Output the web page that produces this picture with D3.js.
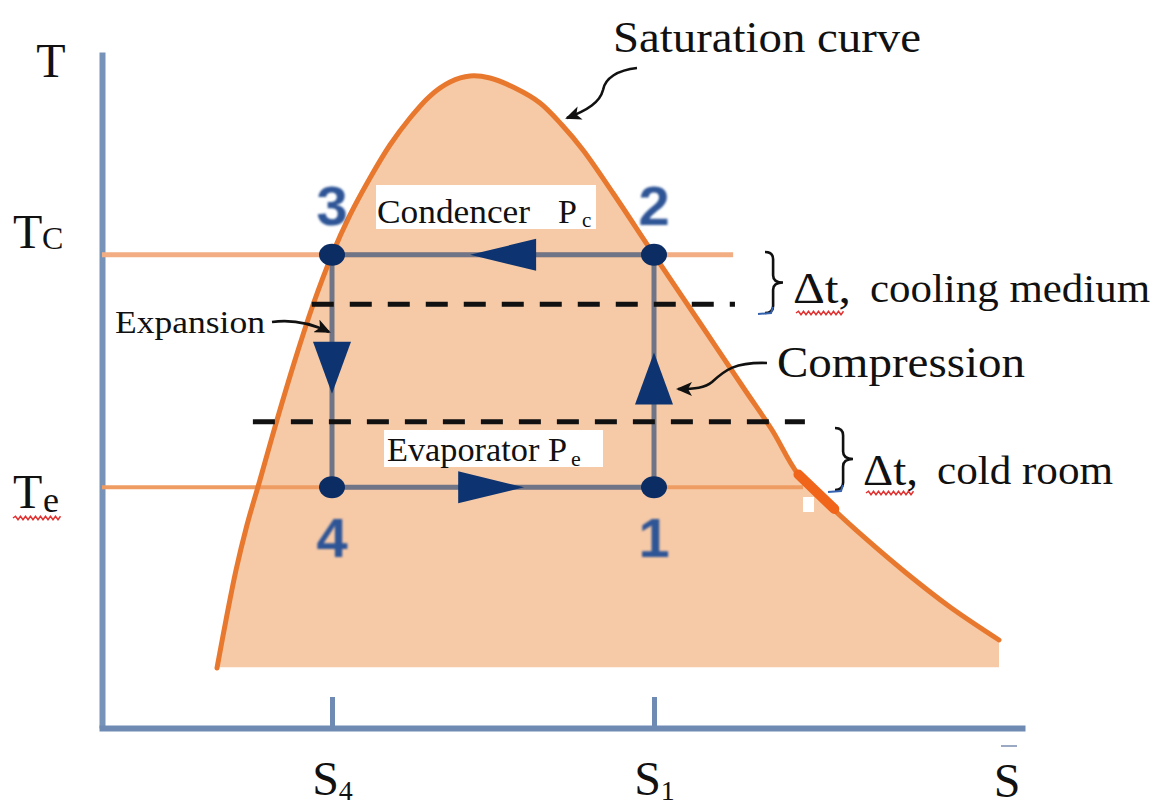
<!DOCTYPE html>
<html><head><meta charset="utf-8">
<script src="https://cdn.jsdelivr.net/npm/d3@7"></script>
<style>body{margin:0;background:#fff} svg{display:block} .serif{font-family:"Liberation Serif","Times New Roman",Tinos,serif}</style>
</head><body>
<svg id="c" width="1157" height="810"></svg>
<script>
// ---------- DATA (entropy S, temperature T, arbitrary units 0..10) ----------
const satS = [1.250,1.348,1.457,1.576,1.717,1.902,2.098,2.293,2.500,2.696,2.913,3.130,3.348,3.565,3.783,4.000,4.217,4.489,4.761,5.000,5.228,5.554,6.000,6.500,6.989,7.283,7.565,7.913,8.293,8.728,9.217,9.750];
const satT = [0.888,1.598,2.337,3.003,3.669,4.556,5.444,6.257,7.000,7.589,8.136,8.624,9.024,9.349,9.556,9.645,9.615,9.467,9.246,8.920,8.550,7.914,7.000,5.991,5.000,4.408,3.757,3.284,2.811,2.308,1.790,1.302];
const fillBaseT = 0.9;
const Tc = 7.0, Te = 3.56;
const TcLineEndS = 6.86, TeLineEndS = 7.62;
const cycleLabels = ["3","2","1","4"];
const cycleS = [2.5, 6.0, 6.0, 2.5];
const cycleT = [7.0, 7.0, 3.56, 3.56];
const arrowS = [4.36, 4.23, 2.5, 6.0];
const arrowT = [7.0, 3.56, 5.33, 5.17];
const arrowDir = ["left","right","down","up"];
const dashT = [6.27, 4.53];
const dashS0 = [2.28, 1.64];
const dashS1 = [6.88, 7.64];
const hiliteS = [7.57, 7.96];
const hiliteT = [3.75, 3.24];
const xTicks = [2.5, 6.0];
const xTickLabels = [["S","4"],["S","1"]];

// ---------- SETUP ----------
const svg = d3.select("#c");
const x = d3.scaleLinear().domain([0,10]).range([102,1022]);
const y = d3.scaleLinear().domain([0,10]).range([728,52]);

const defs = svg.append("defs");
defs.append("filter").attr("id","blur").append("feGaussianBlur").attr("stdDeviation",1.0);
defs.append("filter").attr("id","soft").append("feGaussianBlur").attr("stdDeviation",0.45);
defs.append("marker").attr("id","ah").attr("markerUnits","userSpaceOnUse")
  .attr("markerWidth",16).attr("markerHeight",14).attr("refX",14).attr("refY",7)
  .attr("orient","auto").attr("viewBox","0 0 16 14")
  .append("path").attr("d","M0,0 L16,7 L0,14 L4,7 Z").attr("fill","#111");

const sat = satS.map((s,i)=>[s,satT[i]]);
const curve = d3.curveCatmullRom.alpha(0.5);

// fill under saturation curve
svg.append("path").datum(sat)
  .attr("d", d3.area().x(d=>x(d[0])).y0(y(fillBaseT)).y1(d=>y(d[1])).curve(curve))
  .attr("fill","#F7CAA7").attr("filter","url(#soft)");

// axes
const yAxis = svg.append("g").attr("transform",`translate(${x(0)},0)`)
  .call(d3.axisLeft(y).tickValues([]).tickSizeOuter(0));
yAxis.select(".domain").attr("stroke","#7893B8").attr("stroke-width",6);
const xAxis = svg.append("g").attr("transform",`translate(0,${y(0)})`)
  .call(d3.axisBottom(x).tickValues(xTicks).tickSizeInner(-31).tickSizeOuter(0).tickFormat(""));
xAxis.select(".domain").attr("stroke","#6F8BB3").attr("stroke-width",6).attr("stroke-linecap","square");
xAxis.selectAll(".tick line").attr("stroke","#6F8BB3").attr("stroke-width",5);
xAxis.selectAll(".tick text").each(function(d,i){
  const t = d3.select(this).text(null).attr("y",67).attr("dy",0).attr("class","serif")
    .attr("font-size",48).attr("fill","#111").attr("text-anchor","middle");
  t.append("tspan").text(xTickLabels[i][0]);
  t.append("tspan").text(xTickLabels[i][1]).attr("font-size",28).attr("dy",5);
});
svg.append("line").attr("x1",1001).attr("x2",1017).attr("y1",746).attr("y2",746)
  .attr("stroke","#9AAAC4").attr("stroke-width",2);

// Tc / Te reference lines
svg.append("line").attr("x1",x(0)).attr("x2",x(TcLineEndS)).attr("y1",y(Tc)).attr("y2",y(Tc))
  .attr("stroke","#F2AE82").attr("stroke-width",5);
svg.append("line").attr("x1",x(0)).attr("x2",x(TeLineEndS)).attr("y1",y(Te)).attr("y2",y(Te))
  .attr("stroke","#EF9C62").attr("stroke-width",4);

// cycle rectangle
const cyc = cycleS.map((s,i)=>[x(s),y(cycleT[i])]);
svg.append("path").attr("d", d3.line()(cyc.concat([cyc[0]])))
  .attr("fill","none").attr("stroke","#6F7486").attr("stroke-width",5);

// saturation curve
svg.append("path").datum(sat)
  .attr("d", d3.line().x(d=>x(d[0])).y(d=>y(d[1])).curve(curve))
  .attr("fill","none").attr("stroke","#E8782E").attr("stroke-width",5).attr("stroke-linecap","round");

// highlighted segment & white artifact
svg.append("line").attr("x1",x(hiliteS[0])).attr("y1",y(hiliteT[0])).attr("x2",x(hiliteS[1])).attr("y2",y(hiliteT[1]))
  .attr("stroke","#F0651A").attr("stroke-width",10).attr("stroke-linecap","round");
svg.append("rect").attr("x",803).attr("y",497).attr("width",11).attr("height",15).attr("fill","#fff");

// dashed lines
dashT.forEach((t,i)=>{
  svg.append("line").attr("x1",x(dashS0[i])).attr("x2",x(dashS1[i])).attr("y1",y(t)).attr("y2",y(t))
    .attr("stroke","#111").attr("stroke-width",5).attr("stroke-dasharray","22,16");
});

// direction triangles
arrowS.forEach((s,i)=>{
  const cx=x(s), cy=y(arrowT[i]); let p;
  if(arrowDir[i]==="left")  p=[[cx-33,cy],[cx+33,cy-16],[cx+33,cy+16]];
  if(arrowDir[i]==="right") p=[[cx+33,cy],[cx-33,cy-16],[cx-33,cy+16]];
  if(arrowDir[i]==="down")  p=[[cx,cy+26],[cx-19,cy-26],[cx+19,cy-26]];
  if(arrowDir[i]==="up")    p=[[cx,cy-26],[cx-19,cy+26],[cx+19,cy+26]];
  svg.append("path").attr("d", d3.line()(p)+"Z").attr("fill","#0D3470");
});

// state points
svg.selectAll(".pt").data(cyc).enter().append("ellipse")
  .attr("cx",d=>d[0]).attr("cy",d=>d[1]).attr("rx",13).attr("ry",11).attr("fill","#0C2D64");

// state numbers
const numDy = [-30, -30, 70, 70];
svg.selectAll(".num").data(cyc).enter().append("text")
  .attr("x",d=>d[0]).attr("y",(d,i)=>d[1]+numDy[i])
  .attr("text-anchor","middle").style("font-family","'Liberation Sans',Arial,sans-serif")
  .attr("font-weight","bold").attr("font-size",56).attr("fill","#2F5596").attr("filter","url(#blur)")
  .text((d,i)=>cycleLabels[i]);

// label boxes
svg.append("rect").attr("x",376).attr("y",185).attr("width",220).attr("height",44).attr("fill","#fff");
svg.append("rect").attr("x",384).attr("y",430).attr("width",219).attr("height",37).attr("fill","#fff");

function txt(str,xx,yy,size,len,anchor){
  const t=svg.append("text").attr("x",xx).attr("y",yy).attr("class","serif").attr("font-size",size)
    .attr("fill","#111").text(str);
  if(len) t.attr("textLength",len).attr("lengthAdjust","spacingAndGlyphs");
  if(anchor) t.attr("text-anchor",anchor);
  return t;
}
txt("Condencer",377,223,34,153);
txt("P",558,223,34);
txt("c",582,227,21);
txt("Evaporator P",387,461,34,180);
txt("e",571,466,22);
txt("Expansion",115,333,32,150);
txt("Compression",777,377,44,248);
txt("Saturation curve",613,52,44,308);
txt("Δt,",793,303,44,58);
txt("cooling medium",870,302,40,280);
txt("Δt,",863,485,44,55);
txt("cold room",937,484,40,176);
// axis labels
txt("T",51,77,48,null,"middle");
txt("T",13,248,48); txt("C",42,249,32);
txt("T",13,508,48); txt("e",43,512,36);
txt("S",1007,797,48,null,"middle");

// braces
function brace(x0,w,y0,y1){
  const xm=x0+w*0.45, ym=(y0+y1)/2, q=(y1-y0)*0.12;
  return `M${x0},${y0} Q${xm},${y0} ${xm},${y0+q} L${xm},${ym-q} Q${xm},${ym} ${x0+w},${ym} Q${xm},${ym} ${xm},${ym+q} L${xm},${y1-q} Q${xm},${y1} ${x0},${y1}`;
}
svg.append("path").attr("d",brace(765,18,252,313)).attr("fill","none").attr("stroke","#111").attr("stroke-width",2.6);
svg.append("path").attr("d",brace(835,18,428,490)).attr("fill","none").attr("stroke","#111").attr("stroke-width",2.6);
svg.append("path").attr("d","M758,314 L771,313 L773,307").attr("fill","none").attr("stroke","#3563B0").attr("stroke-width",2);
svg.append("path").attr("d","M828,492 L841,491 L843,485").attr("fill","none").attr("stroke","#3563B0").attr("stroke-width",2);

// red squiggles
function squiggle(x0,x1,yy){
  let d=`M${x0},${yy}`, up=true;
  for(let xx=x0+2.5; xx<=x1; xx+=2.5){ d+=`L${xx},${yy+(up?-1.8:1.8)}`; up=!up; }
  return d;
}
[[796,845,313],[866,914,493],[13,62,518]].forEach(s=>{
  svg.append("path").attr("d",squiggle(...s)).attr("fill","none").attr("stroke","#E0302F").attr("stroke-width",1.5);
});

// curved annotation arrows
const arrows = [
  "M637,68 C618,70 605,78 603,90 C600,102 588,110 567,118",
  "M272,322 Q300,318 329,332",
  "M767,363 C735,362 725,370 712,382 C705,388 695,389 678,389"
];
arrows.forEach(d=>svg.append("path").attr("d",d).attr("fill","none").attr("stroke","#111")
  .attr("stroke-width",2.6).attr("marker-end","url(#ah)"));
</script>
</body></html>
